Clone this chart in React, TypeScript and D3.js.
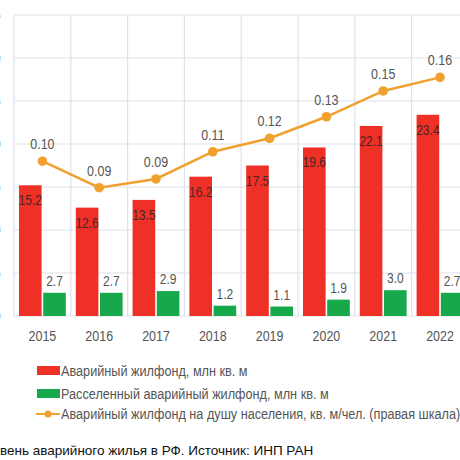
import React from "react";
import * as d3 from "d3";

const years = ["2015", "2016", "2017", "2018", "2019", "2020", "2021", "2022"];
const emergencyStock = [15.2, 12.6, 13.5, 16.2, 17.5, 19.6, 22.1, 23.4];
const resettledStock = [2.7, 2.7, 2.9, 1.2, 1.1, 1.9, 3.0, 2.7];
const perCapita = [0.108, 0.0895, 0.0956, 0.1146, 0.124, 0.139, 0.157, 0.1665];
const perCapitaLabels = ["0.10", "0.09", "0.09", "0.11", "0.12", "0.13", "0.15", "0.16"];
const leftTicks = [0, 5, 10, 15, 20, 25, 30, 35];
const legendLabels = [
  "Аварийный жилфонд, млн кв. м",
  "Расселенный аварийный жилфонд, млн кв. м",
  "Аварийный жилфонд на душу населения, кв. м/чел. (правая шкала)",
];
const caption = "вень аварийного жилья в РФ. Источник: ИНП РАН";

const RED = "#ee3026";
const GREEN = "#16a84a";
const ORANGE = "#f0a02e";
const GRID = "#dfe1ea";
const FONT = "'Liberation Sans', Arial, sans-serif";
const SX = 0.86;

function T(props: {
  x: number;
  y: number;
  size: number;
  fill: string;
  anchor?: string;
  sx?: number;
  children: React.ReactNode;
}) {
  const { x, y, size, fill, anchor = "start", sx = SX, children } = props;
  return (
    <text
      transform={`translate(${x},${y}) scale(${sx},1)`}
      textAnchor={anchor}
      fontSize={size}
      fill={fill}
    >
      {children}
    </text>
  );
}

export default function App() {
  const left = 14;
  const step = 56.8;
  const top = 15;
  const bottom = 316;

  const x = d3.scaleBand<string>().domain(years).range([left, left + step * years.length]).padding(0);
  const inner = d3
    .scaleBand<string>()
    .domain(["a", "b"])
    .range([0, x.bandwidth()])
    .paddingInner(0.066)
    .paddingOuter(0.206);
  const yL = d3.scaleLinear().domain([0, 35]).range([bottom, top]);
  const yR = d3.scaleLinear().domain([0, 0.21]).range([bottom, top]);

  const line = d3
    .line<number>()
    .x((_, i) => (x(years[i]) as number) + x.bandwidth() / 2)
    .y((d) => yR(d));

  return (
    <svg
      width={460}
      height={460}
      style={{ position: "absolute", left: 0, top: 0, background: "#fff" }}
      fontFamily={FONT}
    >
      <rect x={0} y={0} width={460} height={460} fill="#fff" />
      {leftTicks.map((t) => (
        <line key={"h" + t} x1={left} x2={left + step * years.length} y1={yL(t)} y2={yL(t)} stroke={GRID} strokeWidth={1.2} />
      ))}
      {years.map((yr) => (
        <line key={"v" + yr} x1={x(yr)} x2={x(yr)} y1={top} y2={bottom} stroke={GRID} strokeWidth={1.2} />
      ))}
      {leftTicks.map((t) => (
        <T key={"lt" + t} x={0.8} y={yL(t) + 5} anchor="end" size={14} fill="#777">
          {t}
        </T>
      ))}
      {years.map((yr, i) => {
        const bx = x(yr) as number;
        const rx = bx + (inner("a") as number);
        const gx = bx + (inner("b") as number);
        const w = inner.bandwidth();
        return (
          <g key={"b" + yr}>
            <rect x={rx} y={yL(emergencyStock[i])} width={w} height={bottom - yL(emergencyStock[i])} fill={RED} />
            <T x={rx + w / 2} y={yL(emergencyStock[i]) + 20} anchor="middle" size={14} fill="#4a2626">
              {emergencyStock[i].toFixed(1)}
            </T>
            <rect x={gx} y={yL(resettledStock[i])} width={w} height={bottom - yL(resettledStock[i])} fill={GREEN} />
            <T x={gx + w / 2} y={yL(resettledStock[i]) - 7} anchor="middle" size={14} fill="#555">
              {resettledStock[i].toFixed(1)}
            </T>
            <T x={bx + x.bandwidth() / 2} y={341} anchor="middle" size={14.5} fill="#555">
              {yr}
            </T>
          </g>
        );
      })}
      <path d={line(perCapita) || ""} fill="none" stroke={ORANGE} strokeWidth={2.5} />
      {perCapita.map((v, i) => {
        const cx = (x(years[i]) as number) + x.bandwidth() / 2;
        return (
          <g key={"p" + i}>
            <circle cx={cx} cy={yR(v)} r={4.8} fill={ORANGE} />
            <T x={cx} y={yR(v) - 12} anchor="middle" size={14.5} fill="#555">
              {perCapitaLabels[i]}
            </T>
          </g>
        );
      })}
      <g>
        <rect x={37} y={366} width={23} height={9} fill={RED} />
        <T x={61} y={376} size={14.5} sx={0.875} fill="#555">{legendLabels[0]}</T>
        <rect x={37} y={389} width={23} height={9} fill={GREEN} />
        <T x={61} y={399} size={14.5} sx={0.875} fill="#555">{legendLabels[1]}</T>
        <line x1={36} x2={60} y1={414} y2={414} stroke={ORANGE} strokeWidth={2} />
        <circle cx={48} cy={414} r={3.5} fill={ORANGE} />
        <T x={61} y={419} size={14.5} sx={0.875} fill="#555">{legendLabels[2]}</T>
      </g>
      <T x={0} y={455} size={13.5} fill="#111" sx={1}>
        {caption}
      </T>
    </svg>
  );
}
